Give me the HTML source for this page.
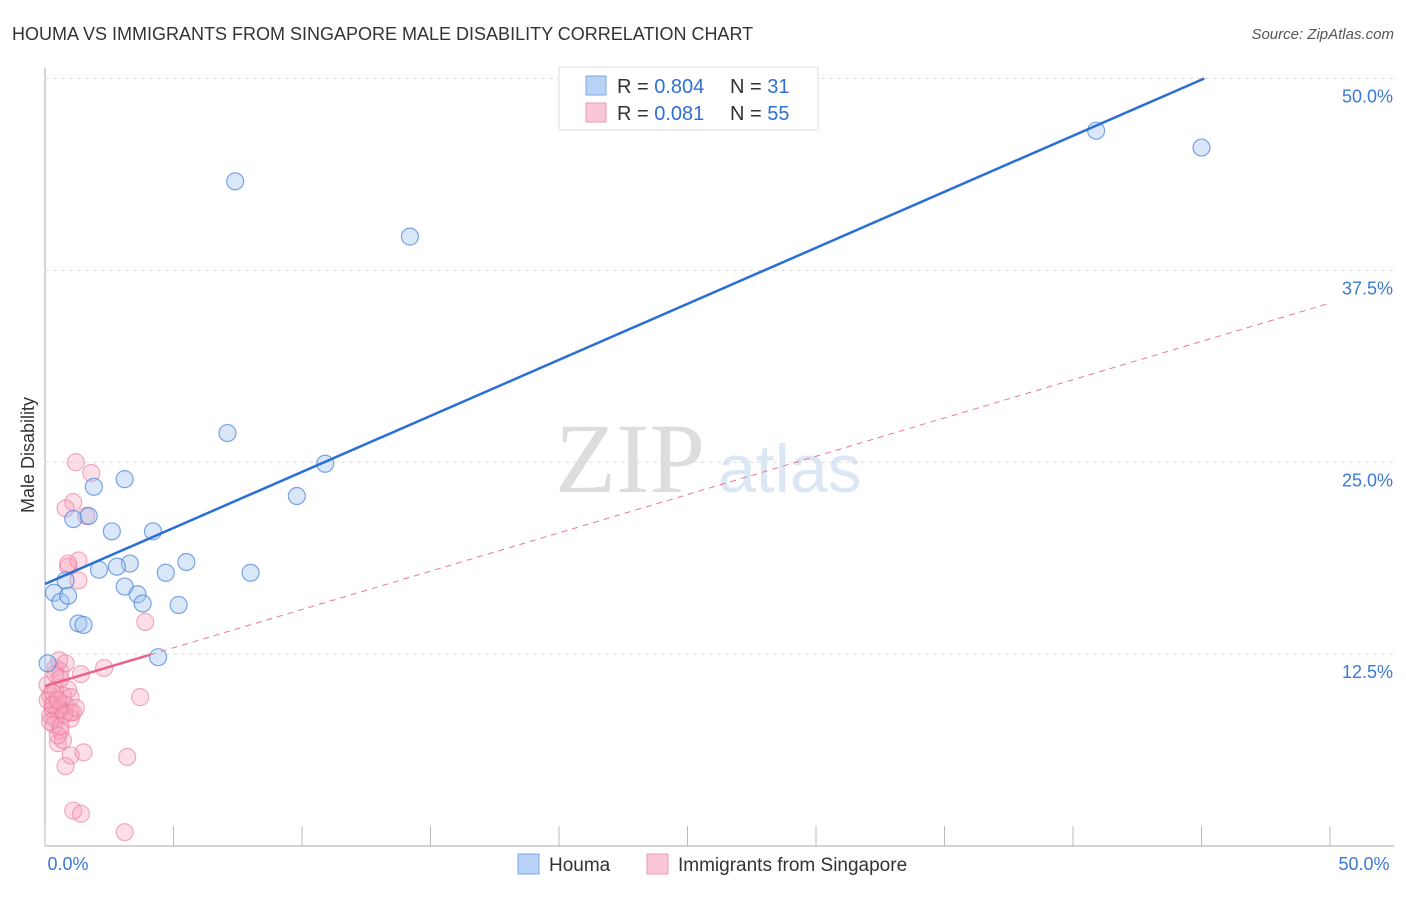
<!DOCTYPE html>
<html><head><meta charset="utf-8"><style>
body{margin:0;background:#fff;font-family:"Liberation Sans",sans-serif;}
svg text{font-family:"Liberation Sans",sans-serif;}
</style></head><body>
<svg id="c" width="1406" height="892">
<text x="12" y="40" font-size="18" fill="#333">HOUMA VS IMMIGRANTS FROM SINGAPORE MALE DISABILITY CORRELATION CHART</text>
<text x="1394" y="39" font-size="15" fill="#555" font-style="italic" text-anchor="end">Source: ZipAtlas.com</text>
<text x="555" y="492" font-size="100" fill="#ddd" font-family="Liberation Serif" style="font-family:'Liberation Serif',serif">ZIP</text>
<text x="718" y="492" font-size="68" fill="#dbe7f5">atlas</text>
<text x="34" y="455" font-size="18" fill="#333" transform="rotate(-90 34 455)" text-anchor="middle">Male Disability</text>
<g id="grid"></g><g id="pts"></g><g id="lines"></g>
<g>
<rect x="559" y="67" width="259" height="63" fill="#fff" stroke="#ddd"/>
<rect x="586" y="76" width="20" height="19" fill="#b8d3f5" stroke="#7aa8e6"/>
<rect x="586" y="103" width="20" height="19" fill="#f9c7d5" stroke="#ee9ab3"/>
<text x="617" y="93" font-size="20" fill="#333">R = <tspan fill="#2f6fd6">0.804</tspan></text>
<text x="730" y="93" font-size="20" fill="#333">N = <tspan fill="#2f6fd6"> 31</tspan></text>
<text x="617" y="120" font-size="20" fill="#333">R = <tspan fill="#2f6fd6"> 0.081</tspan></text>
<text x="730" y="120" font-size="20" fill="#333">N = <tspan fill="#2f6fd6">55</tspan></text>
</g>
<g>
<rect x="518" y="854" width="21" height="20" fill="#b8d3f5" stroke="#7aa8e6"/>
<text x="549" y="871" font-size="19" fill="#333">Houma</text>
<rect x="647" y="854" width="21" height="20" fill="#f9c7d5" stroke="#ee9ab3"/>
<text x="678" y="871" font-size="19" fill="#333">Immigrants from Singapore</text>
</g>
</svg>
<script>
const yTicks=[12.5,25,37.5,50];
const yTickLabels=["12.5%","25.0%","37.5%","50.0%"];
const xTicks=[0,5,10,15,20,25,30,35,40,45,50];
const blueX=[7.4,14.2,40.9,45.0,7.1,10.9,9.8,3.1,1.9,1.1,1.7,2.6,4.2,3.3,2.8,2.1,5.5,4.7,8.0,0.8,3.1,3.6,0.35,0.6,0.9,3.8,5.2,1.3,1.5,4.4,0.1];
const blueY=[43.3,39.7,46.6,45.5,26.9,24.9,22.8,23.9,23.4,21.3,21.5,20.5,20.5,18.4,18.2,18.0,18.5,17.8,17.8,17.3,16.9,16.4,16.5,15.9,16.3,15.8,15.7,14.5,14.4,12.3,11.9];
const pinkX=[1.2,1.8,1.1,0.8,1.6,0.9,1.3,1.3,0.9,3.9,2.3,1.4,0.4,0.6,0.9,3.7,0.3,0.6,1.1,1.0,0.4,0.6,0.5,1.0,1.5,3.2,0.8,1.1,1.4,3.1,0.2,0.3,0.1,0.4,0.7,0.5,0.2,0.8,1.0,0.35,0.7,0.5,0.1,0.6,0.8,0.3,1.0,0.3,0.5,0.75,0.2,0.6,0.4,1.2,0.55];
const pinkY=[25.0,24.3,22.4,22.0,21.5,18.2,18.6,17.3,18.4,14.6,11.6,11.2,11.6,11.4,10.2,9.7,9.2,8.9,8.7,8.3,8.3,7.5,6.7,5.9,6.1,5.8,5.2,2.3,2.1,0.9,9.8,8.9,9.5,10.2,9.8,8.8,8.5,9.2,8.7,7.9,6.9,7.2,10.5,10.9,11.9,10.0,9.7,9.2,9.5,8.6,8.1,7.8,11.2,9.0,12.1];
const blueA=17.07,blueB=0.730,pinkA=10.42,pinkB=0.499;
const X=v=>45+v*25.7, Y=v=>846-v*15.35;
const ns="http://www.w3.org/2000/svg";
function mk(p,t,a){const e=document.createElementNS(ns,t);for(const k in a)e.setAttribute(k,a[k]);document.getElementById(p).appendChild(e);return e;}
let e=mk('grid','line',{x1:45,y1:846,x2:1394,y2:846,stroke:'#aaa'});


e=mk('grid','line',{x1:45,y1:68,x2:45,y2:846,stroke:'#aaa'});


yTicks.forEach((t,i)=>{
 let g=mk('grid','line',{x1:45,y1:Y(t),x2:1394,y2:Y(t),stroke:'#ddd','stroke-dasharray':'4,4'});
 
 
 let l=mk('grid','text',{x:1393,y:Y(t)+24,'font-size':18,fill:'#3a78d8','text-anchor':'end'});
 l.textContent=yTickLabels[i];
 
 
});
xTicks.forEach(t=>{
 let g=mk('grid','line',{x1:X(t),y1:826,x2:X(t),y2:846,stroke:'#bbb'});
 
 
});
[[0,'0.0%',68],[50,'50.0%',1364]].forEach(([v,s,x])=>{
 let l=mk('grid','text',{x:x,y:870,'font-size':18,fill:'#3a78d8','text-anchor':'middle'});
 l.textContent=s;
 
 
});
pinkX.forEach((v,i)=>{
 let c=mk('pts','circle',{cx:X(v),cy:Y(pinkY[i]),r:8.5,fill:'rgba(246,160,185,0.35)',stroke:'rgba(235,120,155,0.6)','stroke-width':1.2});
 
 
});
blueX.forEach((v,i)=>{
 let c=mk('pts','circle',{cx:X(v),cy:Y(blueY[i]),r:8.5,fill:'rgba(160,196,240,0.4)',stroke:'rgba(70,130,220,0.7)','stroke-width':1.2});
 
 
});
const bx2=(50-blueA)/blueB;
e=mk('lines','line',{x1:X(0),y1:Y(blueA),x2:X(bx2),y2:Y(50),stroke:'#2a6fd6','stroke-width':2.5});


e=mk('lines','line',{x1:X(4.1),y1:Y(pinkA+pinkB*4.1),x2:X(50),y2:Y(pinkA+pinkB*50),stroke:'#e8799a','stroke-width':1,'stroke-dasharray':'6,5'});


e=mk('lines','line',{x1:X(0),y1:Y(pinkA),x2:X(4.1),y2:Y(pinkA+pinkB*4.1),stroke:'#e8628a','stroke-width':2.5});


</script>
</body></html>
